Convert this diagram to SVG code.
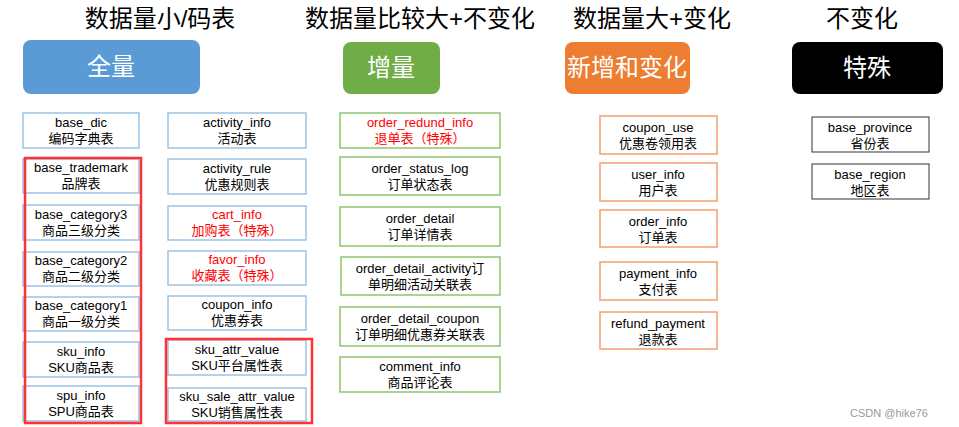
<svg xmlns="http://www.w3.org/2000/svg" width="959" height="427" viewBox="0 0 959 427">
<style>
text{font-family:"Liberation Sans","Noto Sans CJK SC",sans-serif;text-anchor:middle}
.h{font-size:24px;fill:#000}
.bt{font-size:24px;fill:#fff}
.t{font-size:13px;fill:#000}
.r{fill:#f00}
.b rect{fill:#fff;stroke:#9dc3e6;stroke-width:1.5}
.g rect{fill:#fff;stroke:#8fc46c;stroke-width:1.5}
.o rect{fill:#fff;stroke:#f4a06c;stroke-width:1.5}
.k rect{fill:#fff;stroke:#333;stroke-width:1}
.red{fill:none;stroke:#f33;stroke-width:2.5}
</style>
<rect width="959" height="427" fill="#fff"/>
<text class="h" x="160" y="27">数据量小/码表</text>
<text class="h" x="420" y="27">数据量比较大+不变化</text>
<text class="h" x="652" y="27">数据量大+变化</text>
<text class="h" x="862" y="27">不变化</text>
<g id="banner1"><rect x="23" y="40" width="177" height="54" rx="8" fill="#5b9bd5"/><text class="bt" x="111" y="75">全量</text></g>
<g id="banner2"><rect x="343" y="42" width="97" height="52" rx="8" fill="#70ad47"/><text class="bt" x="391" y="76">增量</text></g>
<g id="banner3"><rect x="565" y="42" width="125" height="52" rx="8" fill="#ed7d31"/><text class="bt" x="627" y="76">新增和变化</text></g>
<g id="banner4"><rect x="792" y="42" width="151" height="52" rx="8" fill="#000"/><text class="bt" x="867" y="76">特殊</text></g>
<g class="b">
<g id="base_dic"><rect x="23" y="113" width="116" height="35"/><text class="t" x="81" y="127">base_dic</text><text class="t" x="81" y="143">编码字典表</text></g>
<g id="base_trademark"><rect x="23" y="159" width="116" height="34"/><text class="t" x="81" y="172">base_trademark</text><text class="t" x="81" y="188">品牌表</text></g>
<g id="base_category3"><rect x="23" y="205" width="116" height="35"/><text class="t" x="81" y="219">base_category3</text><text class="t" x="81" y="235">商品三级分类</text></g>
<g id="base_category2"><rect x="23" y="252" width="116" height="34"/><text class="t" x="81" y="265">base_category2</text><text class="t" x="81" y="281">商品二级分类</text></g>
<g id="base_category1"><rect x="23" y="297" width="116" height="34"/><text class="t" x="81" y="310">base_category1</text><text class="t" x="81" y="326">商品一级分类</text></g>
<g id="sku_info"><rect x="23" y="342" width="116" height="35"/><text class="t" x="81" y="356">sku_info</text><text class="t" x="81" y="372">SKU商品表</text></g>
<g id="spu_info"><rect x="23" y="386" width="116" height="35"/><text class="t" x="81" y="400">spu_info</text><text class="t" x="81" y="416">SPU商品表</text></g>
<g id="activity_info"><rect x="168" y="113" width="138" height="35"/><text class="t" x="237" y="127">activity_info</text><text class="t" x="237" y="143">活动表</text></g>
<g id="activity_rule"><rect x="168" y="159" width="138" height="35"/><text class="t" x="237" y="173">activity_rule</text><text class="t" x="237" y="189">优惠规则表</text></g>
<g id="cart_info"><rect x="168" y="206" width="138" height="34"/><text class="t r" x="237" y="219">cart_info</text><text class="t r" x="237" y="235">加购表（特殊）</text></g>
<g id="favor_info"><rect x="168" y="251" width="138" height="34"/><text class="t r" x="237" y="264">favor_info</text><text class="t r" x="237" y="280">收藏表（特殊）</text></g>
<g id="coupon_info"><rect x="168" y="296" width="138" height="34"/><text class="t" x="237" y="309">coupon_info</text><text class="t" x="237" y="325">优惠券表</text></g>
<g id="sku_attr_value"><rect x="168" y="340" width="138" height="35"/><text class="t" x="237" y="354">sku_attr_value</text><text class="t" x="237" y="370">SKU平台属性表</text></g>
<g id="sku_sale_attr_value"><rect x="168" y="388" width="138" height="33"/><text class="t" x="237" y="401">sku_sale_attr_value</text><text class="t" x="237" y="417">SKU销售属性表</text></g>
</g>
<rect class="red" x="25" y="158" width="116" height="265"/>
<rect class="red" x="166" y="339" width="146" height="84"/>
<g class="g">
<g id="order_redund_info"><rect x="340" y="113" width="160" height="35"/><text class="t r" x="420" y="127">order_redund_info</text><text class="t r" x="420" y="143">退单表（特殊）</text></g>
<g id="order_status_log"><rect x="340" y="157" width="160" height="38"/><text class="t" x="420" y="173">order_status_log</text><text class="t" x="420" y="189">订单状态表</text></g>
<g id="order_detail"><rect x="340" y="207" width="160" height="39"/><text class="t" x="420" y="223">order_detail</text><text class="t" x="420" y="239">订单详情表</text></g>
<g id="order_detail_activity"><rect x="341" y="257" width="159" height="38"/><text class="t" x="420" y="273">order_detail_activity订</text><text class="t" x="420" y="289">单明细活动关联表</text></g>
<g id="order_detail_coupon"><rect x="340" y="307" width="160" height="39"/><text class="t" x="420" y="323">order_detail_coupon</text><text class="t" x="420" y="339">订单明细优惠券关联表</text></g>
<g id="comment_info"><rect x="340" y="357" width="160" height="35"/><text class="t" x="420" y="371">comment_info</text><text class="t" x="420" y="387">商品评论表</text></g>
</g>
<g class="o">
<g id="coupon_use"><rect x="600" y="116" width="117" height="38"/><text class="t" x="658" y="132">coupon_use</text><text class="t" x="658" y="148">优惠卷领用表</text></g>
<g id="user_info"><rect x="600" y="163" width="117" height="38"/><text class="t" x="658" y="179">user_info</text><text class="t" x="658" y="195">用户表</text></g>
<g id="order_info"><rect x="600" y="210" width="117" height="37"/><text class="t" x="658" y="226">order_info</text><text class="t" x="658" y="242">订单表</text></g>
<g id="payment_info"><rect x="600" y="262" width="117" height="38"/><text class="t" x="658" y="278">payment_info</text><text class="t" x="658" y="294">支付表</text></g>
<g id="refund_payment"><rect x="600" y="312" width="117" height="37"/><text class="t" x="658" y="328">refund_payment</text><text class="t" x="658" y="344">退款表</text></g>
</g>
<g class="k">
<g id="base_province"><rect x="812" y="117" width="117" height="35"/><text class="t" x="870" y="132">base_province</text><text class="t" x="870" y="148">省份表</text></g>
<g id="base_region"><rect x="812" y="164" width="117" height="35"/><text class="t" x="870" y="179">base_region</text><text class="t" x="870" y="195">地区表</text></g>
</g>
<g id="connectors"/>
<text x="889" y="417" style="font-size:11px;fill:#999">CSDN @hike76</text>
</svg>
